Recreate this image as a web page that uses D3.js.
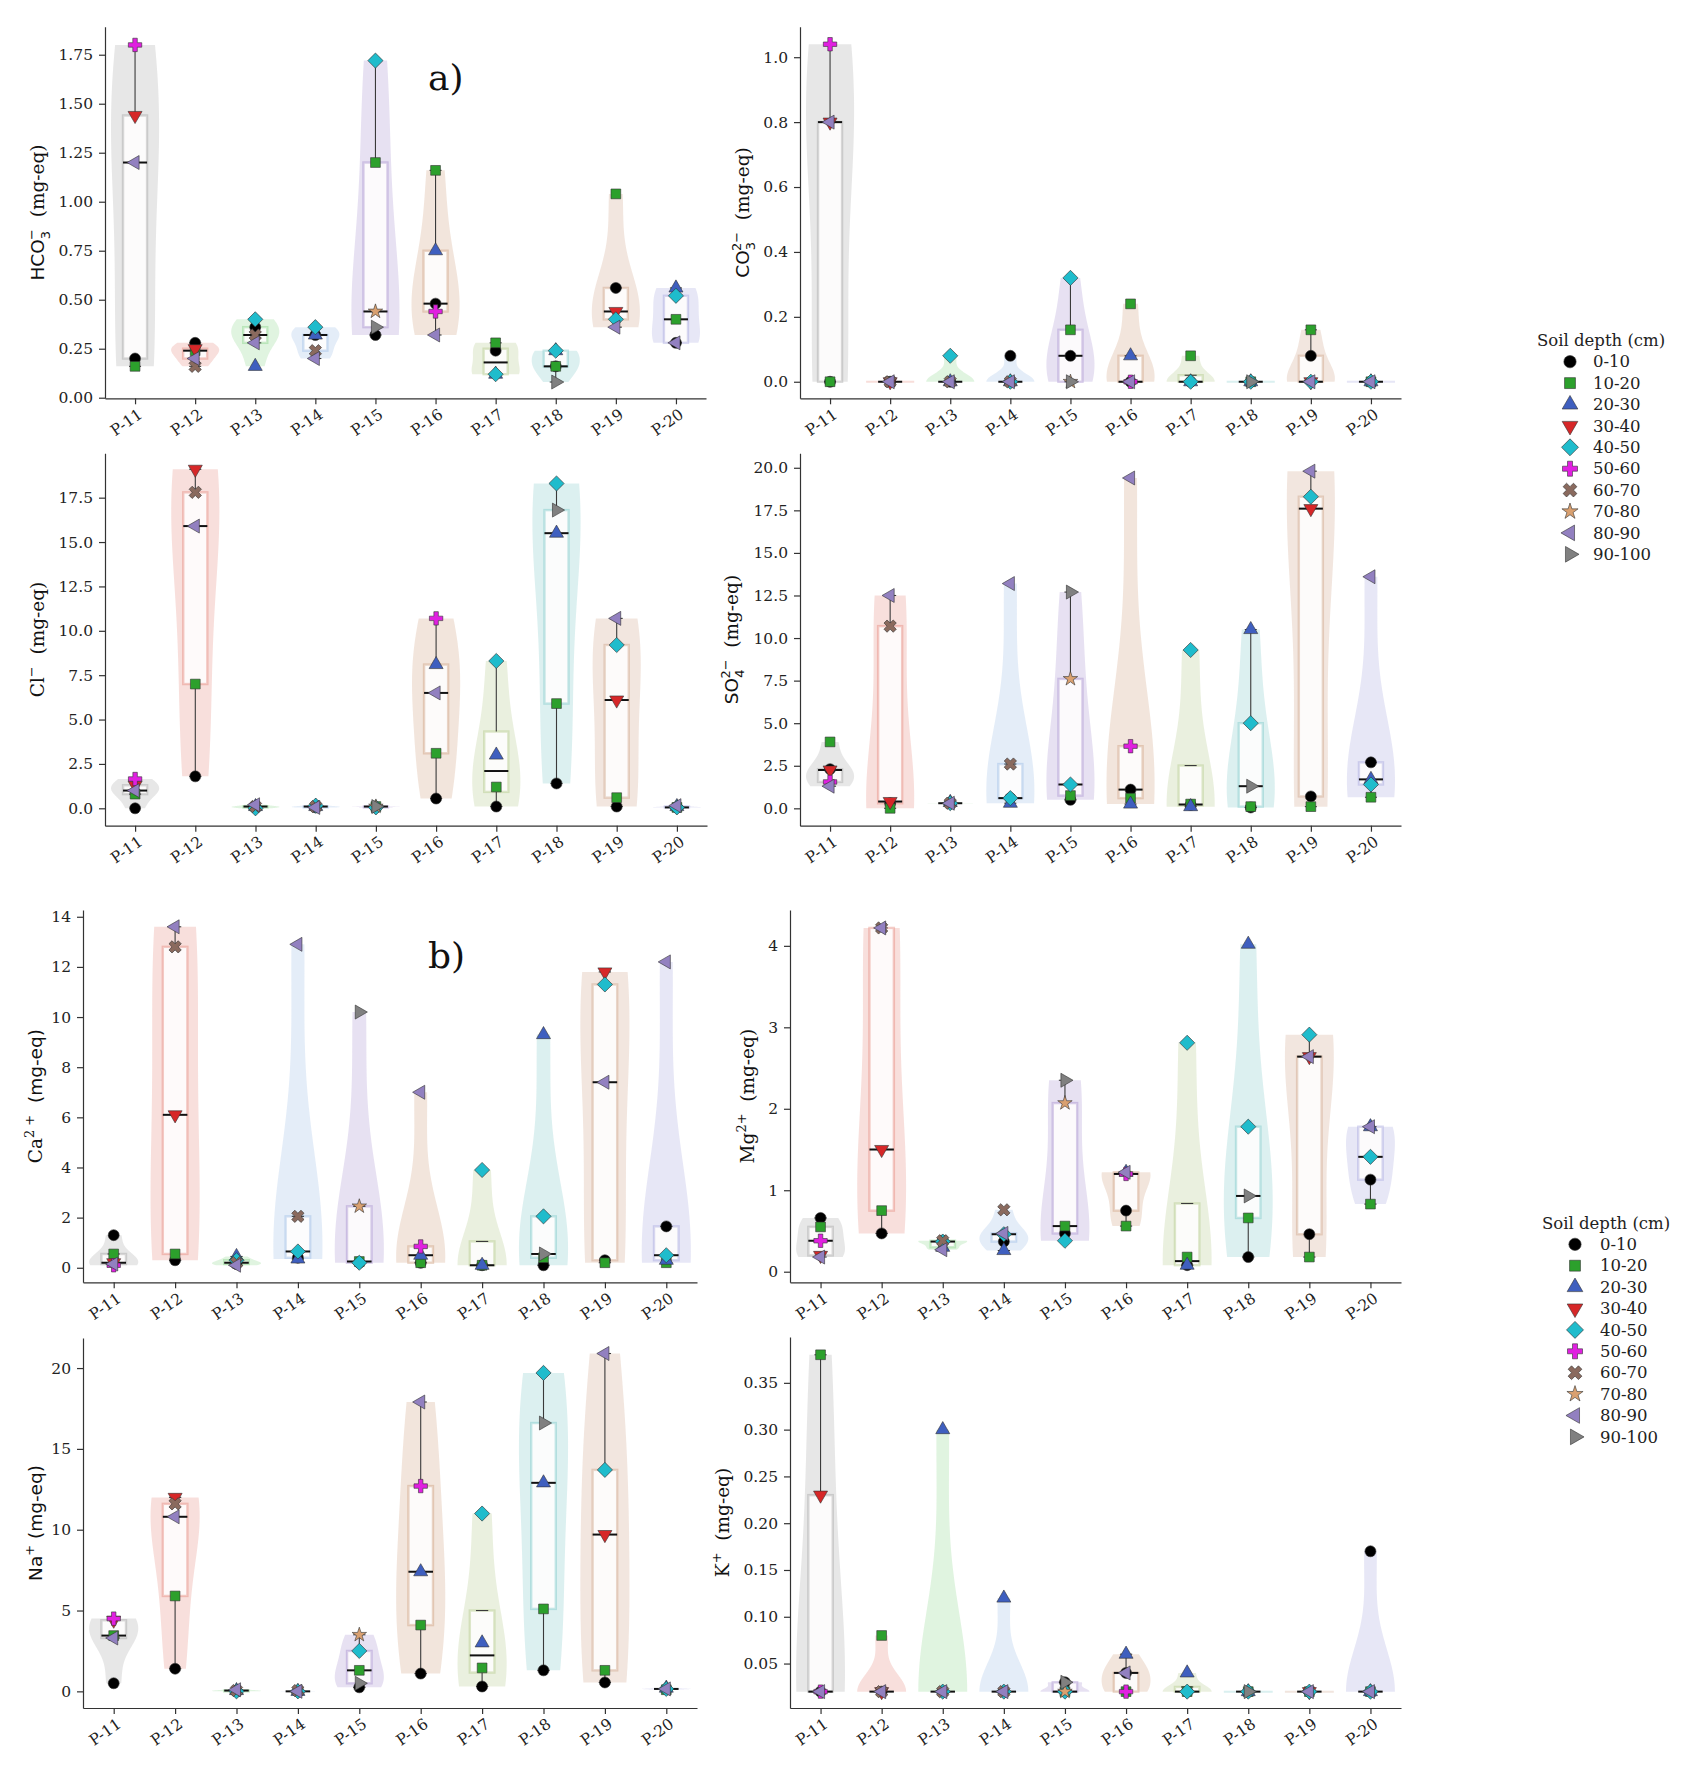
<!DOCTYPE html>
<html>
<head>
<meta charset="utf-8">
<script src="https://cdn.jsdelivr.net/npm/d3@7"></script>
<style>
  body { margin: 0; background: #fff; }
  text { font-family: "DejaVu Serif", serif; }
</style>
</head>
<body>
<svg id="chart"></svg>
<script>
// sites and soil depths
const sites = ["P-11", "P-12", "P-13", "P-14", "P-15", "P-16", "P-17", "P-18", "P-19", "P-20"];
const depths = ["0-10", "10-20", "20-30", "30-40", "40-50", "50-60", "60-70", "70-80", "80-90", "90-100"];
// which depth classes were sampled at each site (index into depths)
const siteDepths = [
  [0, 1, 3, 5, 8], [0, 1, 3, 6, 8], [0, 2, 4, 6, 8], [0, 2, 4, 6, 8], [0, 1, 4, 7, 9],
  [0, 1, 2, 5, 8], [0, 1, 2, 4], [0, 1, 2, 4, 9], [0, 1, 3, 4, 8], [0, 1, 2, 4, 8]
];

// values per site, in the order of siteDepths (mg-eq)
const hco3 = [
  [0.20, 0.16, 1.44, 1.80, 1.20], [0.28, 0.24, 0.25, 0.16, 0.20], [0.36, 0.16, 0.40, 0.32, 0.28],
  [0.32, 0.32, 0.36, 0.24, 0.20], [0.32, 1.20, 1.72, 0.44, 0.36], [0.48, 1.16, 0.75, 0.44, 0.32],
  [0.24, 0.28, 0.12, 0.12], [0.16, 0.16, 0.24, 0.24, 0.08], [0.56, 1.04, 0.44, 0.40, 0.36],
  [0.28, 0.40, 0.56, 0.52, 0.28]
];
const co3 = [
  [0, 0, 0.80, 1.04, 0.80], [0, 0, 0, 0, 0], [0, 0, 0.08, 0, 0], [0.08, 0, 0, 0, 0],
  [0.08, 0.16, 0.32, 0, 0], [0, 0.24, 0.08, 0, 0], [0, 0.08, 0, 0], [0, 0, 0, 0, 0],
  [0.08, 0.16, 0, 0, 0], [0, 0, 0, 0, 0]
];
const cl = [
  [0.0, 0.8, 1.3, 1.65, 1.0], [1.8, 7.0, 19.1, 17.8, 15.9], [0.05, 0.1, 0.0, 0.1, 0.2],
  [0.05, 0.1, 0.15, 0.1, 0.05], [0.05, 0.1, 0.05, 0.1, 0.1], [0.55, 3.1, 8.1, 10.7, 6.5],
  [0.1, 1.2, 3.0, 8.3], [1.4, 5.9, 15.5, 18.3, 16.8], [0.1, 0.6, 6.1, 9.2, 10.7],
  [0.05, 0.05, 0.1, 0.05, 0.15]
];
const so4 = [
  [2.3, 3.9, 2.25, 1.55, 1.3], [0.3, 0.0, 0.4, 10.7, 12.5], [0.3, 0.35, 0.3, 0.3, 0.3],
  [0.6, 0.3, 0.6, 2.6, 13.2], [0.5, 0.75, 1.4, 7.6, 12.7], [1.1, 0.6, 0.25, 3.65, 19.4],
  [0.2, 0.25, 0.1, 9.3], [0.05, 0.1, 10.5, 5.0, 1.3], [0.7, 0.1, 17.6, 18.3, 19.8],
  [2.7, 0.65, 1.7, 1.4, 13.6]
];
const ca = [
  [1.3, 0.55, 0.2, 0.1, 0.15], [0.3, 0.55, 6.1, 12.8, 13.6], [0.15, 0.45, 0.3, 0.2, 0.1],
  [0.4, 0.35, 0.65, 2.05, 12.9], [0.2, 0.25, 0.2, 2.45, 10.2], [0.2, 0.2, 0.5, 0.85, 7.0],
  [0.1, 0.1, 0.1, 3.9], [0.1, 0.4, 9.3, 2.05, 0.55], [0.3, 0.2, 11.8, 11.3, 7.4],
  [1.65, 0.2, 0.3, 0.5, 12.2]
];
const mg = [
  [0.66, 0.55, 0.2, 0.38, 0.18], [0.47, 0.75, 1.5, 4.22, 4.22], [0.38, 0.3, 0.37, 0.38, 0.27],
  [0.37, 0.26, 0.46, 0.76, 0.47], [0.47, 0.56, 0.38, 2.07, 2.35], [0.75, 0.56, 1.22, 1.2, 1.22],
  [0.08, 0.18, 0.08, 2.81], [0.18, 0.66, 4.02, 1.78, 0.93], [0.46, 0.18, 2.64, 2.91, 2.64],
  [1.13, 0.83, 1.78, 1.41, 1.78]
];
const na = [
  [0.5, 3.45, 4.4, 4.5, 3.3], [1.4, 5.9, 12.0, 11.6, 10.8], [0.0, 0.05, 0.0, 0.05, 0.1],
  [0.0, 0.0, 0.0, 0.05, 0.0], [0.25, 1.3, 2.5, 3.5, 0.5], [1.1, 4.1, 7.4, 12.7, 17.9],
  [0.3, 1.45, 3.0, 11.0], [1.3, 5.1, 12.9, 19.7, 16.6], [0.55, 1.3, 9.7, 13.7, 20.9],
  [0.15, 0.1, 0.2, 0.15, 0.15]
];
const k = [
  [0.02, 0.38, 0.23, 0.02, 0.02], [0.02, 0.08, 0.02, 0.02, 0.02], [0.02, 0.30, 0.02, 0.02, 0.02],
  [0.02, 0.12, 0.02, 0.02, 0.02], [0.03, 0.02, 0.02, 0.02, 0.03], [0.04, 0.02, 0.06, 0.02, 0.04],
  [0.02, 0.02, 0.04, 0.02], [0.02, 0.02, 0.02, 0.02, 0.02], [0.02, 0.02, 0.02, 0.02, 0.02],
  [0.17, 0.02, 0.02, 0.02, 0.02]
];

// tick values per panel
const hco3Ticks = [0, 0.25, 0.5, 0.75, 1, 1.25, 1.5, 1.75];
const co3Ticks = [0, 0.2, 0.4, 0.6, 0.8, 1.0];
const clTicks = [0, 2.5, 5, 7.5, 10, 12.5, 15, 17.5];
const so4Ticks = [0, 2.5, 5, 7.5, 10, 12.5, 15, 17.5, 20];
const caTicks = [0, 2, 4, 6, 8, 10, 12, 14];
const mgTicks = [0, 1, 2, 3, 4];
const naTicks = [0, 5, 10, 15, 20];
const kTicks = [0.05, 0.1, 0.15, 0.2, 0.25, 0.3, 0.35];

// colours
const siteColors = ["#9a9a9a", "#e27a6c", "#7ccf7c", "#8fb2e2", "#9b80c8", "#c8946e", "#a9c27a", "#6cc2c2", "#c8987a", "#9c9cda"];
const depthColors = ["#000000", "#2ca02c", "#3f5fbf", "#d62728", "#1fbccc", "#e020e0", "#8a6a5e", "#d9a070", "#9280c0", "#808080"];
const shapes = [
  {t: d3.symbolCircle, r: 0, s: 95},
  {t: d3.symbolSquare, r: 0, s: 95},
  {t: d3.symbolTriangle, r: 0, s: 85},
  {t: d3.symbolTriangle, r: 180, s: 85},
  {t: d3.symbolSquare, r: 45, s: 115},
  {t: d3.symbolCross, r: 0, s: 100},
  {t: d3.symbolCross, r: 45, s: 95},
  {t: d3.symbolStar, r: 0, s: 65},
  {t: d3.symbolTriangle, r: -90, s: 85},
  {t: d3.symbolTriangle, r: 90, s: 85}
];

const svg = d3.select("#chart").attr("width", 1697).attr("height", 1766);

const panels = [
  {vals: hco3, ticks: hco3Ticks, fmt: ".2f", x0: 105, x1: 706, top: 26.7, bottom: 398.3, dom: [-0.003, 1.893], lx: 44,
    label: [{t: "HCO", f: "DejaVu Sans"}, {t: "3", k: "sub", f: "DejaVu Sans"}, {t: "\u2212", k: "sup", back: 9, f: "DejaVu Sans"}, {t: "\u00a0 (mg-eq)"}]},
  {vals: co3, ticks: co3Ticks, fmt: ".1f", x0: 800, x1: 1401, top: 26.7, bottom: 398.3, dom: [-0.051, 1.094], lx: 749,
    label: [{t: "CO", f: "DejaVu Sans"}, {t: "3", k: "sub", f: "DejaVu Sans"}, {t: "2\u2212", k: "sup", back: 9, f: "DejaVu Sans"}, {t: "\u00a0 (mg-eq)"}]},
  {vals: cl, ticks: clTicks, fmt: ".1f", x0: 105, x1: 707, top: 453.3, bottom: 825.7, dom: [-0.98, 20.0], lx: 44,
    label: [{t: "Cl"}, {t: "\u2212", k: "sup"}, {t: "\u00a0 (mg-eq)"}]},
  {vals: so4, ticks: so4Ticks, fmt: ".1f", x0: 800, x1: 1401, top: 453.3, bottom: 825.7, dom: [-1.02, 20.85], lx: 738,
    label: [{t: "SO", f: "DejaVu Sans"}, {t: "4", k: "sub", f: "DejaVu Sans"}, {t: "2\u2212", k: "sup", back: 9, f: "DejaVu Sans"}, {t: "\u00a0 (mg-eq)"}]},
  {vals: ca, ticks: caTicks, fmt: "d", x0: 83, x1: 697, top: 910, bottom: 1282.3, dom: [-0.58, 14.27], lx: 42,
    label: [{t: "Ca"}, {t: "2 +", k: "sup"}, {t: "\u00a0 (mg-eq)", f: "DejaVu Sans"}]},
  {vals: mg, ticks: mgTicks, fmt: "d", x0: 790, x1: 1401, top: 910, bottom: 1282.3, dom: [-0.13, 4.44], lx: 754,
    label: [{t: "Mg"}, {t: "2+", k: "sup"}, {t: "\u00a0 (mg-eq)"}]},
  {vals: na, ticks: naTicks, fmt: "d", x0: 83, x1: 697, top: 1338, bottom: 1708, dom: [-1.03, 21.86], lx: 42,
    label: [{t: "Na", f: "DejaVu Sans"}, {t: "+", k: "sup", f: "DejaVu Sans"}, {t: " (mg-eq)", f: "DejaVu Sans"}]},
  {vals: k, ticks: kTicks, fmt: ".2f", x0: 790, x1: 1401, top: 1337, bottom: 1708, dom: [0.0025, 0.399], lx: 729,
    label: [{t: "K"}, {t: "+", k: "sup"}, {t: "\u00a0 (mg-eq)"}]}
];

function kde(vals, lo, hi) {
  const h = d3.deviation(vals) * Math.pow(vals.length, -0.2);
  return d3.range(0, 101).map(i => {
    const v = lo + (hi - lo) * i / 100;
    return [v, d3.sum(vals, xi => Math.exp(-0.5 * ((v - xi) / h) ** 2))];
  });
}

function symbolPath(i, scale = 1) {
  return d3.symbol().type(shapes[i].t).size(shapes[i].s * scale)();
}

function drawPanel(p) {
  const g = svg.append("g");
  const x = d3.scalePoint().domain(sites).range([p.x0, p.x1]).padding(0.5);
  const y = d3.scaleLinear().domain(p.dom).range([p.bottom, p.top]);
  const step = x.step();
  const vw = step * 0.4, bw = step * 0.2;

  sites.forEach((site, si) => {
    const vals = p.vals[si];
    const cx = x(site);
    const col = siteColors[si];
    const [lo, hi] = d3.extent(vals);

    // violin
    if (hi > lo) {
      const dens = kde(vals, lo, hi);
      const dmax = d3.max(dens, d => d[1]);
      g.append("path")
        .datum(dens)
        .attr("fill", col)
        .attr("fill-opacity", 0.24)
        .attr("d", d3.area()
          .y(d => y(d[0]))
          .x0(d => cx - vw * d[1] / dmax)
          .x1(d => cx + vw * d[1] / dmax));
    } else {
      g.append("line")
        .attr("x1", cx - vw).attr("x2", cx + vw)
        .attr("y1", y(lo)).attr("y2", y(lo))
        .attr("stroke", col).attr("stroke-opacity", 0.25).attr("stroke-width", 2);
    }

    // box
    const s = vals.slice().sort(d3.ascending);
    const q1 = d3.quantileSorted(s, 0.25), med = d3.quantileSorted(s, 0.5), q3 = d3.quantileSorted(s, 0.75);
    const iqr = q3 - q1;
    let wLo = d3.min(s.filter(v => v >= q1 - 1.5 * iqr));
    let wHi = d3.max(s.filter(v => v <= q3 + 1.5 * iqr));
    if (wLo > q1) wLo = q1;
    if (wHi < q3) wHi = q3;

    g.append("rect")
      .attr("x", cx - bw).attr("width", bw * 2)
      .attr("y", y(q3)).attr("height", Math.max(0, y(q1) - y(q3)))
      .attr("fill", "#fefdfd").attr("fill-opacity", 0.9)
      .attr("stroke", col).attr("stroke-opacity", 0.38).attr("stroke-width", 2.4);

    const wk = g.append("g").attr("stroke", "#3a3a3a").attr("stroke-width", 1.1);
    [[q3, wHi], [q1, wLo]].forEach(([a, b]) => {
      if (a !== b) wk.append("line").attr("x1", cx).attr("x2", cx).attr("y1", y(a)).attr("y2", y(b));
      wk.append("line").attr("x1", cx - bw / 2).attr("x2", cx + bw / 2).attr("y1", y(b)).attr("y2", y(b));
    });

    g.append("line")
      .attr("x1", cx - bw).attr("x2", cx + bw)
      .attr("y1", y(med)).attr("y2", y(med))
      .attr("stroke", "#111").attr("stroke-width", 2);

    // points
    g.append("g")
      .selectAll("path")
      .data(vals.map((v, j) => ({v, d: siteDepths[si][j]})))
      .join("path")
      .attr("transform", d => `translate(${cx},${y(d.v)}) rotate(${shapes[d.d].r})`)
      .attr("d", d => symbolPath(d.d))
      .attr("fill", d => depthColors[d.d])
      .attr("stroke", "#333")
      .attr("stroke-width", 0.6);
  });

  // axes
  const yAxis = g.append("g")
    .attr("transform", `translate(${p.x0},0)`)
    .call(d3.axisLeft(y).tickValues(p.ticks).tickFormat(d3.format(p.fmt)).tickSize(6).tickSizeOuter(0).tickPadding(6));
  const xAxis = g.append("g")
    .attr("transform", `translate(0,${p.bottom})`)
    .call(d3.axisBottom(x).tickSize(6).tickSizeOuter(0));
  xAxis.selectAll(".tick text")
    .attr("x", 0).attr("y", 0).attr("dy", "0.35em")
    .attr("transform", "translate(5,14) rotate(-35)")
    .attr("text-anchor", "end");
  [yAxis, xAxis].forEach(a => {
    a.attr("font-family", "DejaVu Serif").attr("font-size", 15.5);
    a.selectAll("path, line").attr("stroke", "#333").attr("stroke-width", 1.2);
    a.selectAll("text").attr("fill", "#222");
  });

  // y label
  const size = 18.5;
  const t = g.append("text")
    .attr("transform", `translate(${p.lx},${(p.top + p.bottom) / 2}) rotate(-90)`)
    .attr("text-anchor", "middle")
    .attr("dy", "0.35em")
    .attr("fill", "#111")
    .attr("font-size", size);
  let shift = 0;
  p.label.forEach(part => {
    const small = part.k === "sub" || part.k === "sup";
    const target = part.k === "sub" ? size * 0.3 : part.k === "sup" ? -size * 0.45 : 0;
    const ts = t.append("tspan")
      .attr("dy", target - shift)
      .attr("font-size", small ? size * 0.7 : size)
      .text(part.t);
    if (part.back) ts.attr("dx", -part.back);
    if (part.f) ts.attr("font-family", part.f);
    shift = target;
  });
}

panels.forEach(drawPanel);

// panel letters
svg.append("text").attr("x", 428).attr("y", 90).attr("font-family", "Liberation Serif").attr("font-size", 36).attr("fill", "#111").text("a)");
svg.append("text").attr("x", 428).attr("y", 968).attr("font-family", "Liberation Serif").attr("font-size", 36).attr("fill", "#111").text("b)");

// legends
function legend(titleX, titleY, markX, textX, rowY) {
  const g = svg.append("g").attr("font-family", "DejaVu Serif").attr("font-size", 16.5).attr("fill", "#222");
  g.append("text").attr("x", titleX).attr("y", titleY).attr("dy", "0.35em").text("Soil depth (cm)");
  depths.forEach((d, i) => {
    const yy = rowY + i * 21.4;
    g.append("path")
      .attr("transform", `translate(${markX},${yy}) rotate(${shapes[i].r})`)
      .attr("d", symbolPath(i, 1.25))
      .attr("fill", depthColors[i])
      .attr("stroke", "#333")
      .attr("stroke-width", 0.6);
    g.append("text").attr("x", textX).attr("y", yy).attr("dy", "0.35em").text(d);
  });
}
legend(1537, 340, 1570, 1593, 361.7);
legend(1542, 1223, 1575, 1600, 1244.3);
</script>
</body>
</html>
